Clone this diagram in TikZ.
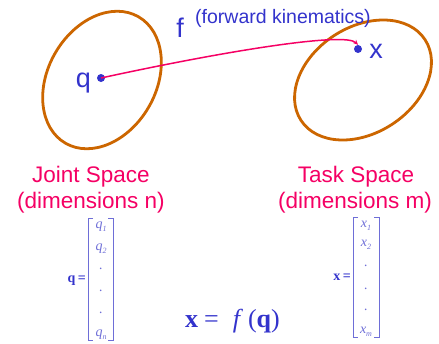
\documentclass[tikz,border=0pt]{standalone}
\usepackage{fontspec}
\setmainfont{Liberation Sans}
\newfontfamily\tms{Liberation Serif}
\usetikzlibrary{arrows.meta}
\definecolor{setbrown}{RGB}{204,102,0}
\definecolor{dotblue}{RGB}{51,51,204}
\definecolor{pinkred}{RGB}{245,0,100}
\definecolor{vecblue}{RGB}{110,110,215}
\tikzset{
  setline/.style={draw=setbrown,line width=2.8pt},
  ptdot/.style={circle,fill=dotblue,inner sep=0pt,minimum size=8pt},
  biglabel/.style={text=dotblue,font=\fontsize{27}{30}\selectfont,inner sep=0pt,anchor=base},
  spacelabel/.style={text=pinkred,font=\fontsize{22.5}{26}\selectfont,inner sep=0pt,anchor=base,align=center},
  entry/.style={text=vecblue,font=\tms\fontsize{14}{16}\selectfont\itshape,inner sep=0pt},
  brk/.style={draw=vecblue,line width=0.8pt},
  veclabel/.style={text=dotblue,font=\tms\fontsize{14}{16}\selectfont\bfseries,inner sep=0pt},
}
\newcommand{\sub}[1]{\raisebox{-2.5pt}{\fontsize{8}{9}\selectfont #1}}
\begin{document}
\begin{tikzpicture}[x=1pt,y=-1pt]
\useasboundingbox (0,0) rectangle (439,343);
% ellipses
\draw[setline,shift={(102,80)},rotate=60] (0,0) ellipse [x radius=73pt,y radius=54pt];
\draw[setline,shift={(363,80)},rotate=33] (0,0) ellipse [x radius=74pt,y radius=53pt];
% dots
\node[ptdot] (qd) at (101,78) {};
\node[ptdot] (xd) at (358,49) {};
% labels
\node[biglabel] (ql) at (83.5,87) {q};
\node[biglabel] (xl) at (376,58) {x};
\node[biglabel] (fl) at (180,37) {f};
\node[text=dotblue,font=\fontsize{19.5}{22}\selectfont,inner sep=0pt,anchor=base west] (fk) at (195,23) {(forward kinematics)};
% curve
\draw[pinkred,line width=1.5pt,-{Stealth[length=5pt,width=4.5pt]}] (qd.center) .. controls (230,50) and (345,32) .. (xd.north);
% space labels
\node[spacelabel] (js) at (91,182) {Joint Space};
\node[spacelabel] (jd) at (91,208) {(dimensions n)};
\node[spacelabel] (ts) at (356,182) {Task Space};
\node[spacelabel] (td) at (355,208) {(dimensions m)};
% q vector
\node[veclabel,anchor=east] (qeq) at (86,281) {q\,=};
\draw[brk] (93,218) -- (88,218) -- (88,340) -- (93,340);
\draw[brk] (108,218) -- (113,218) -- (113,340) -- (108,340);
\node[entry] (q1) at (101,227) {q\sub{1}};
\node[entry] (q2) at (101,249) {q\sub{2}};
\node[entry] (q3) at (101,269) {.};
\node[entry] (q4) at (101,291) {.};
\node[entry] (q5) at (101,313) {.};
\node[entry] (qn) at (101,335) {q\sub{\itshape n}};
% x vector
\node[veclabel,anchor=east] (xeq) at (351,277) {x\,=};
\draw[brk] (358,217) -- (353,217) -- (353,337) -- (358,337);
\draw[brk] (374,217) -- (379,217) -- (379,337) -- (374,337);
\node[entry] (x1) at (366,226) {x\sub{1}};
\node[entry] (x2) at (366,245) {x\sub{2}};
\node[entry] (x3) at (366,266) {.};
\node[entry] (x4) at (366,289) {.};
\node[entry] (x5) at (366,310) {.};
\node[entry] (xm) at (366,332) {x\sub{\itshape m}};
% equation
\node[text=dotblue,font=\tms\fontsize{26}{28}\selectfont,inner sep=0pt,anchor=base west] (eq) at (185,327)
  {\textbf{x}\hspace{6pt}=\hspace{14pt}\textit{f}\hspace{5pt}(\textbf{q})};
\end{tikzpicture}
\end{document}
